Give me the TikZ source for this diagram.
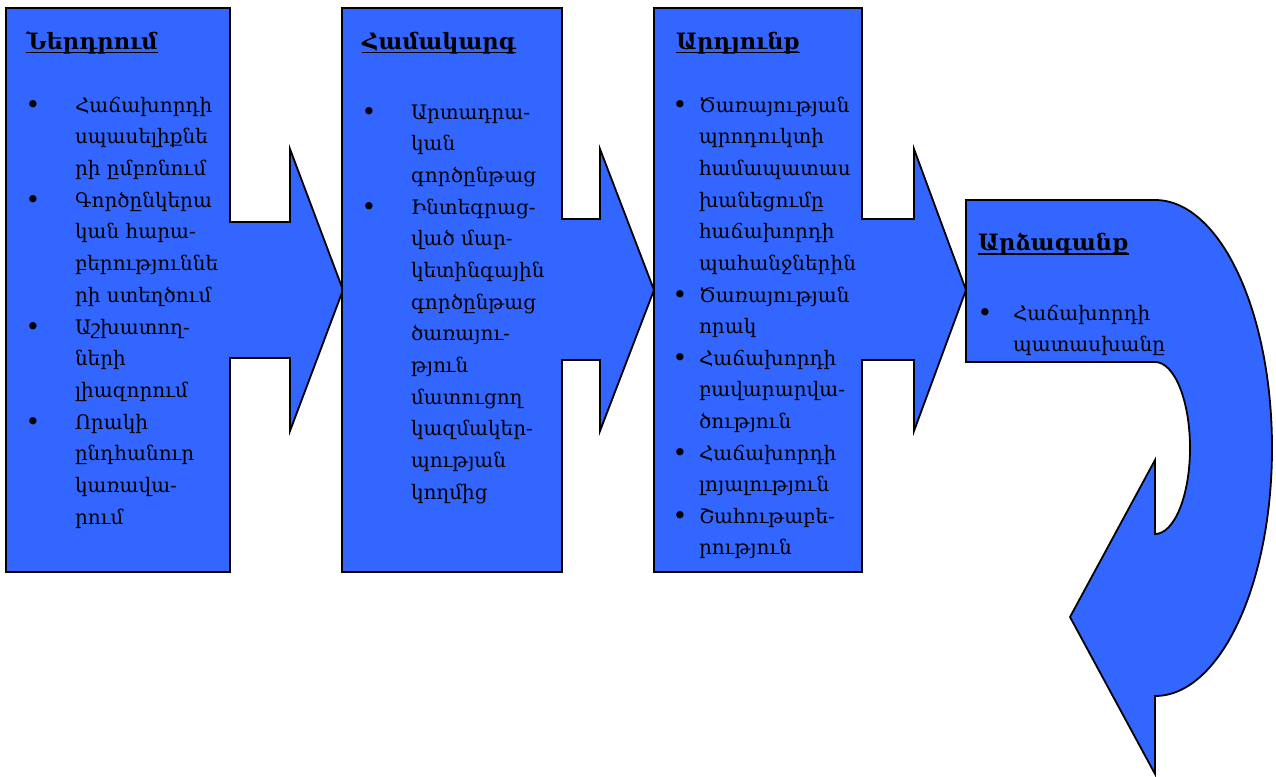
\documentclass[tikz,border=0pt]{standalone}
\usepackage{fontspec}
\setmainfont{DejaVu Serif}
\definecolor{boxblue}{HTML}{3366FF}
\newcommand\myul[1]{\setbox0\hbox{#1}\rlap{\rule[-4.5pt]{\wd0}{1.6pt}}\box0}
\tikzset{
  shapebox/.style={draw=black, line width=1.8pt, fill=boxblue, line join=miter},
  txt/.style={inner sep=0pt, outer sep=0pt, anchor=base west, align=left, font=\fontsize{20}{31.7}\selectfont},
  ttl/.style={inner sep=0pt, outer sep=0pt, anchor=base west, font=\fontsize{22.5}{26}\selectfont\bfseries},
  bul/.style={inner sep=0pt, outer sep=0pt, anchor=base, font=\fontsize{25}{28}\selectfont}
}
\begin{document}
\begin{tikzpicture}[x=1pt,y=-1pt]
\useasboundingbox (0,0) rectangle (1276,776);
% shape 1
\draw[shapebox] (6,8) -- (230,8) -- (230,222) -- (290,222) -- (290,149) -- (343,290) -- (290,431) -- (290,358) -- (230,358) -- (230,572) -- (6,572) -- cycle;
% shape 2
\draw[shapebox] (342,8) -- (562,8) -- (562,219) -- (600,219) -- (600,149) -- (654,290) -- (600,431) -- (600,360) -- (562,360) -- (562,572) -- (342,572) -- cycle;
% shape 3
\draw[shapebox] (654,8) -- (862,8) -- (862,219) -- (914,219) -- (914,149) -- (966,290) -- (914,431) -- (914,360) -- (862,360) -- (862,572) -- (654,572) -- cycle;
% shape 4 (U-turn)
\draw[shapebox] (966,200) -- (1155,200) arc[start angle=-90, end angle=0, x radius=117, y radius=248]
  arc[start angle=0, end angle=90, x radius=117, y radius=248]
  -- (1155,774) -- (1070,617) -- (1155,460) -- (1155,534)
  arc[start angle=90, end angle=0, x radius=35, y radius=86]
  arc[start angle=0, end angle=-90, x radius=35, y radius=86]
  -- (966,362) -- cycle;

% box 1 text (multi-line nodes are anchored at the baseline of their last line)
\node[ttl] (t1) at (26,49) {\myul{Ներդրում}};
\node[bul] (b11) at (33,113) {•};
\node[txt] (i11) at (75,175.4) {Հաճախորդի\\սպասելիքնե\\րի ըմբռնում};
\node[bul] (b12) at (33,208) {•};
\node[txt] (i12) at (75,302.1) {Գործընկերա\\կան հարա-\\բերություննե\\րի ստեղծում};
\node[bul] (b13) at (33,335) {•};
\node[txt] (i13) at (75,397.4) {Աշխատող-\\ների\\լիազորում};
\node[bul] (b14) at (33,430) {•};
\node[txt] (i14) at (75,524.1) {Որակի\\ընդհանուր\\կառավա-\\րում};

% box 2 text
\node[ttl] (t2) at (362,49) {\myul{Համակարգ}};
\node[bul] (b21) at (369,120) {•};
\node[txt] (i21) at (411,182.4) {Արտադրա-\\կան\\գործընթաց};
\node[bul] (b22) at (369,215) {•};
\node[txt] (i22) at (411,499.3) {Ինտեգրաց-\\ված մար-\\կետինգային\\գործընթաց\\ծառայու-\\թյուն\\մատուցող\\կազմակեր-\\պության\\կողմից};

% box 3 text
\node[ttl] (t3) at (676,49) {\myul{Արդյունք}};
\node[bul] (b31) at (680,113) {•};
\node[txt] (i31) at (699,270.5) {Ծառայության\\պրոդուկտի\\համապատաս\\խանեցումը\\հաճախորդի\\պահանջներին};
\node[bul] (b32) at (680,303) {•};
\node[txt] (i32) at (699,333.7) {Ծառայության\\որակ};
\node[bul] (b33) at (680,366) {•};
\node[txt] (i33) at (699,428.4) {Հաճախորդի\\բավարարվա-\\ծություն};
\node[bul] (b34) at (680,461) {•};
\node[txt] (i34) at (699,491.7) {Հաճախորդի\\լոյալություն};
\node[bul] (b35) at (680,524) {•};
\node[txt] (i35) at (699,554.7) {Շահութաբե-\\րություն};

% box 4 text
\node[ttl] (t4) at (978,250) {\myul{Արձագանք}};
\node[bul] (b41) at (985,321) {•};
\node[txt] (i41) at (1013,351.7) {Հաճախորդի\\պատասխանը};
\end{tikzpicture}
\end{document}
